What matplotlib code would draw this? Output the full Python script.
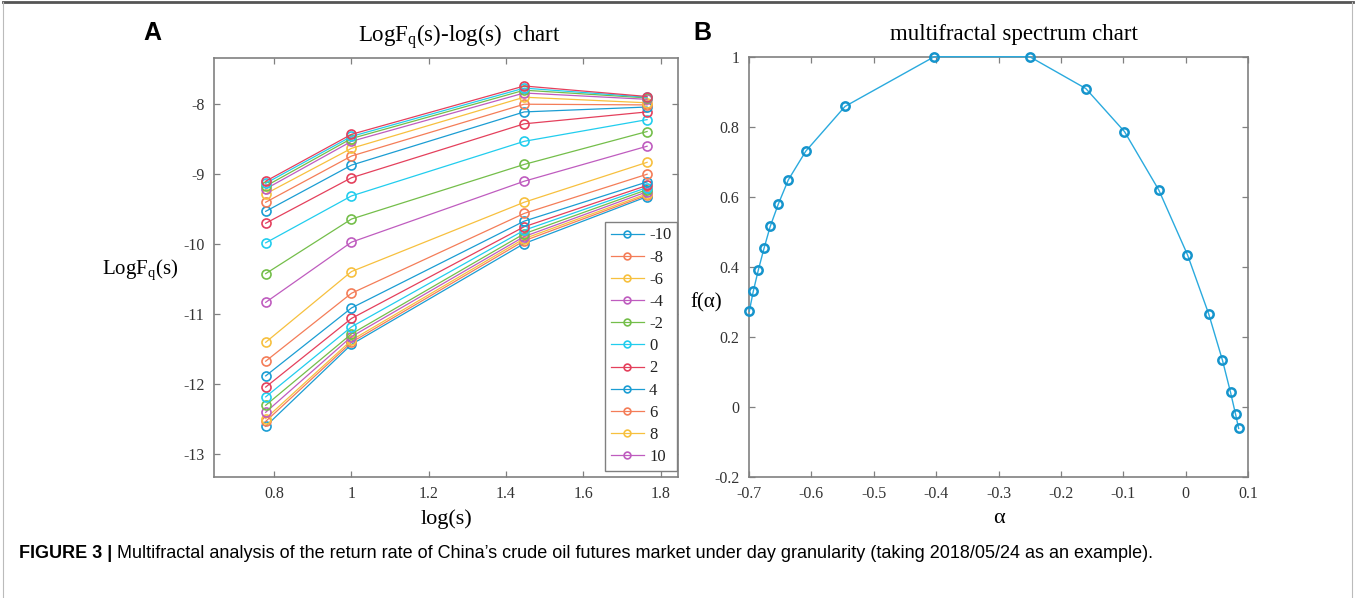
import matplotlib
matplotlib.use("Agg")
import matplotlib.pyplot as plt
from matplotlib import font_manager
from matplotlib.lines import Line2D

plt.rcParams['font.family'] = ['Liberation Serif', 'DejaVu Serif']
plt.rcParams['mathtext.fontset'] = 'custom'
plt.rcParams['mathtext.rm'] = 'Liberation Serif'
plt.rcParams['mathtext.it'] = 'Liberation Serif'
plt.rcParams['axes.unicode_minus'] = False

# Panel A: log(s) and LogFq(s) for each q line (bottom to top)
logs = [0.778, 1.0, 1.447, 1.765]
logfq = [
    [-12.60, -11.43, -9.99, -9.32],
    [-12.53, -11.40, -9.95, -9.30],
    [-12.49, -11.37, -9.92, -9.28],
    [-12.40, -11.32, -9.89, -9.25],
    [-12.30, -11.28, -9.85, -9.22],
    [-12.18, -11.18, -9.80, -9.19],
    [-12.04, -11.06, -9.75, -9.16],
    [-11.88, -10.91, -9.67, -9.11],
    [-11.67, -10.70, -9.56, -9.00],
    [-11.40, -10.39, -9.40, -8.83],
    [-10.83, -9.97, -9.10, -8.60],
    [-10.42, -9.64, -8.86, -8.39],
    [-9.98, -9.31, -8.53, -8.22],
    [-9.70, -9.05, -8.28, -8.11],
    [-9.53, -8.87, -8.11, -8.04],
    [-9.40, -8.74, -8.00, -8.01],
    [-9.28, -8.63, -7.90, -7.98],
    [-9.21, -8.53, -7.84, -7.93],
    [-9.17, -8.49, -7.80, -7.91],
    [-9.13, -8.46, -7.77, -7.90],
    [-9.10, -8.43, -7.74, -7.89],
]
legend_labels = ['-10', '-8', '-6', '-4', '-2', '0', '2', '4', '6', '8', '10']

# Panel B: multifractal spectrum
alpha = [-0.6995, -0.693, -0.685, -0.676, -0.666, -0.653, -0.637, -0.609, -0.546, -0.403,
         -0.250, -0.160, -0.098, -0.043, 0.003, 0.037, 0.059, 0.072, 0.080, 0.085]
f_alpha = [0.273, 0.331, 0.391, 0.452, 0.515, 0.579, 0.648, 0.730, 0.858, 1.0,
           1.0, 0.909, 0.786, 0.619, 0.434, 0.265, 0.133, 0.041, -0.021, -0.062]

colors = ['#1b9dd3', '#f47d58', '#f7c03e', '#bf5cbf', '#74be4a', '#21cdee', '#e4405c']

fig = plt.figure(figsize=(13.56, 5.98), dpi=100)
W, H = 1356, 598


def axes_px(l, t, r, b):
    return fig.add_axes([l / W, 1 - b / H, (r - l) / W, (b - t) / H])


def style(ax):
    for s in ax.spines.values():
        s.set_color('#808080')
        s.set_linewidth(1.2)
    ax.tick_params(direction='in', top=True, right=True, length=4, width=0.9,
                   color='#808080', labelsize=11.5, labelcolor='#333333', pad=7)


# ---- A ----
axA = axes_px(214.3, 58, 678, 476.7)
for i, row in enumerate(logfq):
    axA.plot(logs, row, '-o', color=colors[i % 7], lw=0.9, ms=6.5, mfc='none', mew=1.2,
             label=legend_labels[i] if i < len(legend_labels) else None)
axA.set_xlim(0.645, 1.845)
axA.set_ylim(-13.32, -7.34)
axA.set_xticks([0.8, 1.0, 1.2, 1.4, 1.6, 1.8])
axA.set_xticklabels(['0.8', '1', '1.2', '1.4', '1.6', '1.8'])
axA.set_yticks([-13, -12, -11, -10, -9, -8])
axA.set_yticklabels(['-13', '-12', '-11', '-10', '-9', '-8'])
style(axA)
axA.set_xlabel('log(s)', fontsize=16, labelpad=5)
axA.set_ylabel(r'LogF$_\mathrm{q}$(s)', fontsize=15, rotation=0, ha='center', va='center')
axA.yaxis.set_label_coords(-0.16, 0.494)
axA.set_title(r'LogF$_\mathrm{q}$(s)-log(s)  chart', fontsize=16.5, x=0.528, pad=12)
leg = axA.legend(loc='lower right', bbox_to_anchor=(0.998, 0.014), fontsize=12,
                 labelspacing=0.37, handlelength=2.0, handletextpad=0.3,
                 borderpad=0.35, fancybox=False, framealpha=1, edgecolor='#808080',
                 borderaxespad=0, markerscale=0.75)
leg.get_frame().set_linewidth(1.0)
for t in leg.get_texts():
    t.set_color('#222222')

# ---- B ----
axB = axes_px(749, 56.7, 1248, 476.7)
axB.plot(alpha, f_alpha, '-o', color='#2aaade', lw=1.0, ms=6, mfc='none',
         mec='#1594cc', mew=1.8, clip_on=False, zorder=3)
axB.set_xlim(-0.7, 0.1)
axB.set_ylim(-0.2, 1.0)
axB.set_xticks([-0.7, -0.6, -0.5, -0.4, -0.3, -0.2, -0.1, 0.0, 0.1])
axB.set_xticklabels(['-0.7', '-0.6', '-0.5', '-0.4', '-0.3', '-0.2', '-0.1', '0', '0.1'])
axB.set_yticks([-0.2, 0.0, 0.2, 0.4, 0.6, 0.8, 1.0])
axB.set_yticklabels(['-0.2', '0', '0.2', '0.4', '0.6', '0.8', '1'])
style(axB)
axB.set_xlabel('α', fontsize=16, labelpad=5)
axB.set_ylabel('f(α)', fontsize=15, rotation=0, ha='center', va='center')
axB.yaxis.set_label_coords(-0.085, 0.415)
axB.set_title('multifractal spectrum chart', fontsize=16.5, x=0.531, pad=12)

# panel letters
fig.text(152 / W, 1 - 33 / H, 'A', fontsize=18, fontweight='bold',
         family='Liberation Sans', ha='center', va='center')
fig.text(702 / W, 1 - 33 / H, 'B', fontsize=18, fontweight='bold',
         family='Liberation Sans', ha='center', va='center')

# caption
names = {f.name for f in font_manager.fontManager.ttflist}
capfont = 'Liberation Sans Narrow' if 'Liberation Sans Narrow' in names else 'Liberation Sans'
capsize = 15.5 if capfont == 'Liberation Sans Narrow' else 13
t1 = fig.text(19 / W, 1 - 554 / H, 'FIGURE 3 | ', fontsize=capsize, fontweight='bold',
              family=capfont, va='center', ha='left')
fig.canvas.draw()
bb = t1.get_window_extent()
fig.text(bb.x1 / W, 1 - 554 / H,
         'Multifractal analysis of the return rate of China\u2019s crude oil futures market '
         'under day granularity (taking 2018/05/24 as an example).',
         fontsize=capsize, family=capfont, va='center', ha='left')

# figure frame
fig.add_artist(Line2D([0.002, 0.998], [1 - 2 / H, 1 - 2 / H], color='#555555', lw=2))
fig.add_artist(Line2D([3 / W, 3 / W], [0, 1 - 2 / H], color='#bbbbbb', lw=0.8))
fig.add_artist(Line2D([1352 / W, 1352 / W], [0, 1 - 2 / H], color='#bbbbbb', lw=0.8))

fig.savefig('out.png', dpi=100)
